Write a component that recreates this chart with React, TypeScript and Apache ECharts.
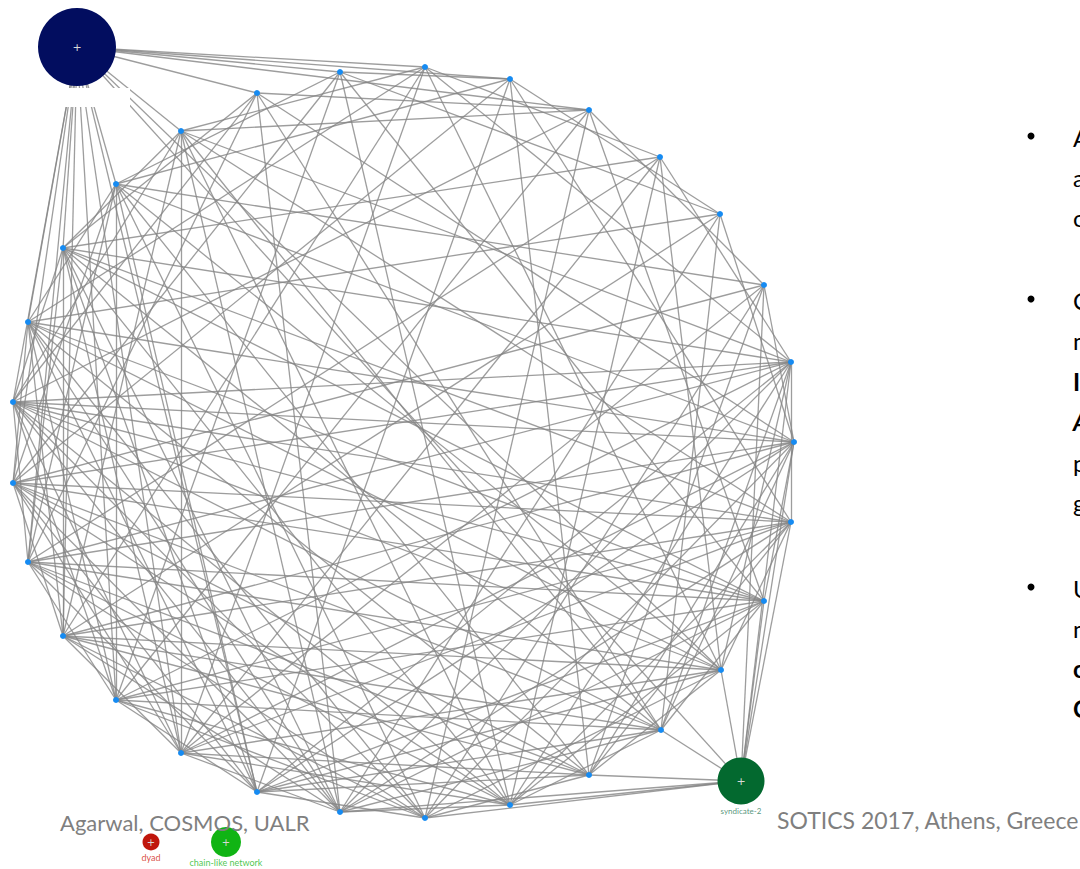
import React, { useEffect, useRef } from "react";
import * as echarts from "echarts";

// Ring nodes (clockwise from upper left)
const ringX = [257, 340, 425, 510, 589, 660, 720, 764, 791, 794, 791, 764, 721, 661, 589, 510, 425, 340, 257, 181, 116, 63, 28, 13, 13, 28, 63, 116, 181];
const ringY = [93, 72, 67, 79, 110, 157, 214, 285, 362, 442, 522, 601, 670, 730, 775, 805, 818, 812, 792, 753, 700, 636, 562, 483, 402, 322, 248, 184, 131];

// Hub / legend nodes: 29 syndicate-1, 30 syndicate-2, 31 dyad, 32 chain-like network
const hubNames = ["syndicate-1", "syndicate-2", "dyad", "chain-like network"];
const hubX = [77, 741, 151, 226];
const hubY = [47, 781, 842, 842];

// Adjacency of ring nodes (neighbours with higher index)
const ringAdj: number[][] = [
  [4, 9, 13, 17, 22, 24, 26],
  [3, 6, 11, 15, 20, 23, 27],
  [5, 8, 12, 19, 21, 25, 28],
  [6, 10, 14, 18, 23, 27],
  [7, 11, 16, 20, 24, 28],
  [8, 12, 15, 19, 22, 26],
  [9, 13, 17, 21, 25],
  [9, 14, 16, 19, 23, 27],
  [10, 12, 13, 15, 17, 18, 20, 22, 23, 24, 26, 28],
  [11, 13, 14, 16, 18, 19, 21, 22, 24, 25, 27],
  [12, 14, 15, 17, 19, 20, 21, 23, 24, 26, 28],
  [13, 15, 17, 18, 20, 22, 23, 24, 25, 26],
  [14, 16, 18, 19, 21, 22, 24, 25, 27],
  [15, 17, 18, 20, 21, 23, 24, 26, 28],
  [16, 18, 19, 21, 22, 23, 25, 27],
  [17, 19, 20, 22, 23, 24, 26, 28],
  [18, 20, 21, 22, 24, 25, 27],
  [19, 21, 23, 24, 25, 26, 28],
  [20, 22, 23, 25, 26, 27],
  [21, 23, 24, 26, 28],
  [22, 24, 25, 27],
  [23, 25, 26, 28],
  [24, 26, 27],
  [25, 27],
  [26, 28],
  [27],
  [28],
  [],
  [],
];
const hubAAdj = [0, 1, 2, 3, 4, 12, 18, 19, 20, 21, 22, 23, 24, 25, 26, 27, 28, 30];
const hubBAdj = [7, 8, 9, 10, 11, 12, 13, 14, 15, 16, 17];

const footerLeft = "Agarwal, COSMOS, UALR";
const footerRight = "SOTICS 2017, Athens, Greece";
const bulletLines = [
  { t: "A", y: 137, bold: false },
  { t: "a", y: 177, bold: false },
  { t: "c", y: 217, bold: false },
  { t: "C", y: 300, bold: false },
  { t: "n", y: 340, bold: false },
  { t: "I", y: 381, bold: true },
  { t: "A", y: 421, bold: true, italic: true },
  { t: "p", y: 462, bold: false },
  { t: "g", y: 502, bold: false },
  { t: "U", y: 588, bold: false },
  { t: "n", y: 628, bold: false },
  { t: "c", y: 668, bold: true },
  { t: "C", y: 708, bold: true },
];
const bulletYs = [137, 300, 588];

export default function App() {
  const ref = useRef<HTMLDivElement>(null);
  useEffect(() => {
    if (!ref.current) return;
    const chart = echarts.init(ref.current, null, { renderer: "svg" });

    const hubStyle = [
      { color: "#020d5f", size: 78 },
      { color: "#03692f", size: 47 },
      { color: "#c0160c", size: 17 },
      { color: "#10b414", size: 30 },
    ];

    const nodes: any[] = [];
    ringX.forEach((x, i) => {
      nodes.push({
        name: "n" + i,
        value: [x, ringY[i]],
        symbolSize: 6,
        itemStyle: { color: "#168bf2" },
        label: { show: false },
      });
    });
    hubNames.forEach((n, i) => {
      nodes.push({
        name: n,
        value: [hubX[i], hubY[i]],
        symbolSize: hubStyle[i].size,
        itemStyle: { color: hubStyle[i].color },
        label: {
          show: true,
          position: "inside",
          formatter: "+",
          color: "#d8d8d8",
          fontSize: i >= 2 ? 10 : 11,
          fontFamily: "DejaVu Sans",
        },
      });
    });

    const links: any[] = [];
    ringAdj.forEach((arr, i) => arr.forEach((j) => links.push({ source: i, target: j })));
    hubAAdj.forEach((j) => links.push({ source: 29, target: j }));
    hubBAdj.forEach((j) => links.push({ source: 30, target: j }));

    const captionData = [
      { name: "syndicate-2", value: [hubX[1], hubY[1]], symbolSize: 47, color: "#2a7a5a", size: 8, dist: 2 },
      { name: "dyad", value: [hubX[2], hubY[2]], symbolSize: 17, color: "#d02010", size: 9, dist: 2 },
      { name: "chain-like network", value: [hubX[3], hubY[3]], symbolSize: 30, color: "#22b822", size: 9, dist: 1 },
    ];

    const graphic: any[] = [
      { type: "rect", shape: { x: 54, y: 88, width: 76, height: 19 }, style: { fill: "#ffffff" }, z: 100 },
      {
        type: "text", x: 60, y: 822,
        style: { text: footerLeft, fill: "#7f7f7f", font: "22px Lato", textVerticalAlign: "middle" },
        z: 100,
      },
      {
        type: "text", x: 777, y: 820,
        style: { text: footerRight, fill: "#7f7f7f", font: "23px Lato", textVerticalAlign: "middle" },
        z: 100,
      },
    ];
    bulletYs.forEach((y) =>
      graphic.push({
        type: "circle", shape: { cx: 1031, cy: y - 1, r: 3.5 }, style: { fill: "#000" }, z: 100,
      })
    );
    bulletLines.forEach((b: any) =>
      graphic.push({
        type: "text", x: 1073, y: b.y,
        style: {
          text: b.t, fill: "#000",
          font: `${b.italic ? "italic " : ""}${b.bold ? "bold " : ""}24px Lato`,
          textVerticalAlign: "middle",
        },
        z: 100,
      })
    );

    chart.setOption({
      animation: false,
      backgroundColor: "#ffffff",
      grid: { left: 0, right: 0, top: 0, bottom: 0 },
      xAxis: { type: "value", min: 0, max: 1080, show: false },
      yAxis: { type: "value", min: 0, max: 869, inverse: true, show: false },
      series: [
        {
          type: "graph",
          coordinateSystem: "cartesian2d",
          layout: "none",
          silent: true,
          symbol: "circle",
          data: nodes,
          links,
          lineStyle: { color: "#858585", width: 1.3, opacity: 0.8, curveness: 0 },
          emphasis: { disabled: true },
        },
        {
          type: "scatter",
          silent: true,
          z: 5,
          data: captionData.map((c) => ({
            name: c.name,
            value: c.value,
            symbolSize: c.symbolSize,
            label: {
              show: true,
              position: "bottom",
              distance: c.dist,
              formatter: c.name,
              color: c.color,
              fontSize: c.size,
              fontFamily: "Lato",
            },
          })),
          itemStyle: { color: "rgba(0,0,0,0)" },
        },
      ],
      graphic,
    });
    return () => chart.dispose();
  }, []);
  return (
    <div
      ref={ref}
      style={{ position: "absolute", left: 0, top: 0, width: 1080, height: 869 }}
    />
  );
}
